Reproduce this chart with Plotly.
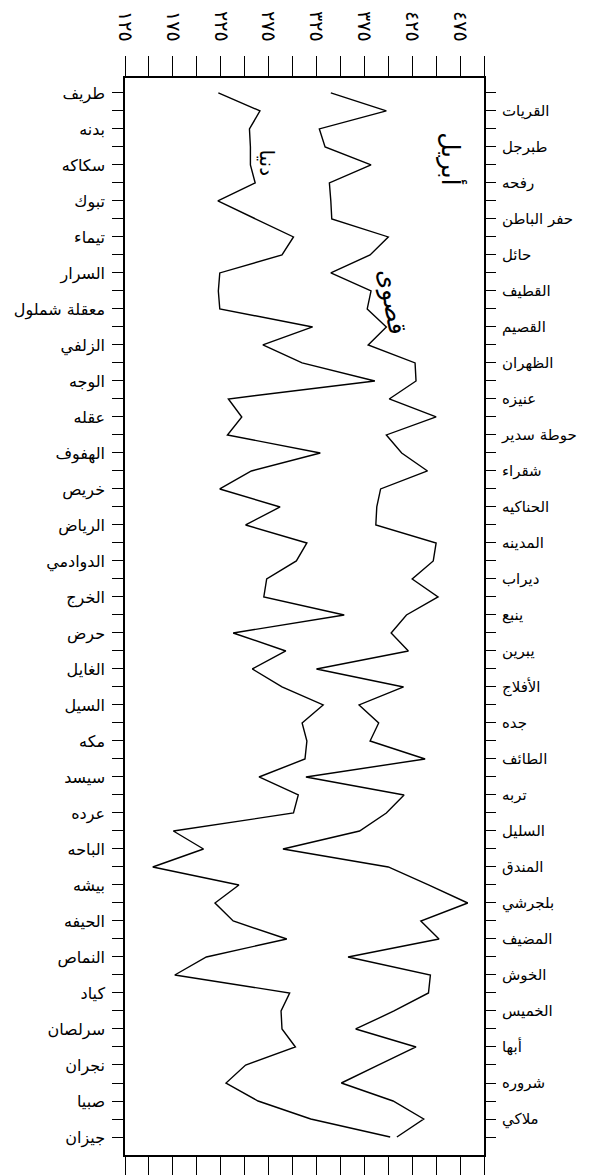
import plotly.graph_objects as go

# Stations shown on the left side (even positions, top to bottom)
left_stations = ["طريف", "بدنه", "سكاكه", "تبوك", "تيماء", "السرار", "معقلة شملول",
                 "الزلفي", "الوجه", "عقله", "الهفوف", "خريص", "الرياض", "الدوادمي",
                 "الخرج", "حرض", "الغايل", "السيل", "مكه", "سيسد", "عرده", "الباحه",
                 "بيشه", "الحيفه", "النماص", "كياد", "سرلصان", "نجران", "صبيا", "جيزان"]
# Stations shown on the right side (odd positions, top to bottom)
right_stations = ["القريات", "طبرجل", "رفحه", "حفر الباطن", "حائل", "القطيف", "القصيم",
                  "الظهران", "عنيزه", "حوطة سدير", "شقراء", "الحناكيه", "المدينه", "ديراب",
                  "ينبع", "يبرين", "الأفلاج", "جده", "الطائف", "تربه", "السليل", "المندق",
                  "بلجرشي", "المضيف", "الخوش", "الخميس", "أبها", "شروره", "ملاكي"]

# Minimum (دنيا) values, station order top to bottom (interleaved left/right)
min_values = [222.5, 266, 255, 256, 256, 261, 222, 261, 301, 289,
              224, 222.5, 224, 321, 269, 310, 386, 233, 247, 232,
              329, 257, 224, 287, 251, 315, 304, 273, 270, 354,
              238, 293, 258, 289, 332, 310, 315, 313, 265, 306,
              301, 175.5, 207, 154, 244, 219, 238, 294, 210, 177,
              297, 288, 289, 303, 251, 230.5, 264, 319, 402]
# Maximum (قصوى) values
max_values = [340, 398, 328, 334, 382, 338.5, 340, 341, 400, 381,
              340, 382, 378, 398, 379, 428, 429, 401, 450, 398,
              414, 441, 392, 388, 387, 450, 447, 425, 452, 419,
              403, 421, 325, 416, 369.5, 390, 381, 438.5, 314, 416.5,
              398, 370, 290, 400, 442, 483, 434, 453, 358, 444,
              442, 406, 366, 429, 390, 351, 405, 437, 409]

x_ticks = [125, 150, 175, 200, 225, 250, 275, 300, 325, 350, 375, 400, 425, 450, 475, 500]
x_ticklabels = ["١٢٥", "", "١٧٥", "", "٢٢٥", "", "٢٧٥", "", "٣٢٥", "", "٣٧٥", "", "٤٢٥", "", "٤٧٥", ""]

stations = []
for i in range(len(left_stations)):
    stations.append(left_stations[i])
    if i < len(right_stations):
        stations.append(right_stations[i])
pos = list(range(len(stations)))
left_text = [s if i % 2 == 0 else "" for i, s in enumerate(stations)]
right_text = [s if i % 2 == 1 else "" for i, s in enumerate(stations)]

FONT = "DejaVu Sans"
fig = go.Figure()
fig.add_trace(go.Scatter(x=min_values, y=pos, mode="lines", name="دنيا",
                         line=dict(color="black", width=1.4), yaxis="y"))
fig.add_trace(go.Scatter(x=max_values, y=pos, mode="lines", name="قصوى",
                         line=dict(color="black", width=1.4), yaxis="y2"))

yrange = [59, -0.83]
# page has an 8px default body margin, so the figure is 594x1167
fig.update_layout(
    width=594, height=1167,
    margin=dict(l=117, r=118, t=70, b=20, autoexpand=False),
    paper_bgcolor="white", plot_bgcolor="white",
    showlegend=False,
    font=dict(family=FONT, color="black"),
    xaxis=dict(side="top", range=[125, 500], tickvals=x_ticks, ticktext=x_ticklabels,
               tickangle=90, ticks="outside", ticklen=20, tickwidth=1.2, tickcolor="black",
               showline=True, linecolor="black", linewidth=1.5, mirror="ticks",
               showgrid=False, zeroline=False, tickfont=dict(size=19, family=FONT),
               ticklabelstandoff=8, automargin=False),
    yaxis=dict(range=yrange, tickvals=pos, ticktext=left_text, ticks="outside",
               ticklen=11, tickwidth=1.2, tickcolor="black", showline=True,
               linecolor="black", linewidth=1.5, mirror=True, showgrid=False,
               zeroline=False, tickfont=dict(size=16, family=FONT), ticklabelstandoff=4,
               automargin=False),
    yaxis2=dict(range=yrange, overlaying="y", side="right", tickvals=pos,
                ticktext=right_text, ticks="outside", ticklen=11, tickwidth=1.2,
                tickcolor="black", showline=False, showgrid=False, zeroline=False,
                tickfont=dict(size=15, family=FONT), ticklabelstandoff=3,
                automargin=False),
)

fig.add_annotation(x=273, y=3.9, xref="x", yref="y", text="دنيا", textangle=90,
                   showarrow=False, font=dict(size=20, family=FONT))
fig.add_annotation(x=404, y=11.6, xref="x", yref="y", text="قصوى", textangle=80,
                   showarrow=False, font=dict(size=25, family=FONT))
fig.add_annotation(x=467, y=3.7, xref="x", yref="y", text="أبريل", textangle=90,
                   showarrow=False, font=dict(size=25, family=FONT))

fig.write_html("out.html")
